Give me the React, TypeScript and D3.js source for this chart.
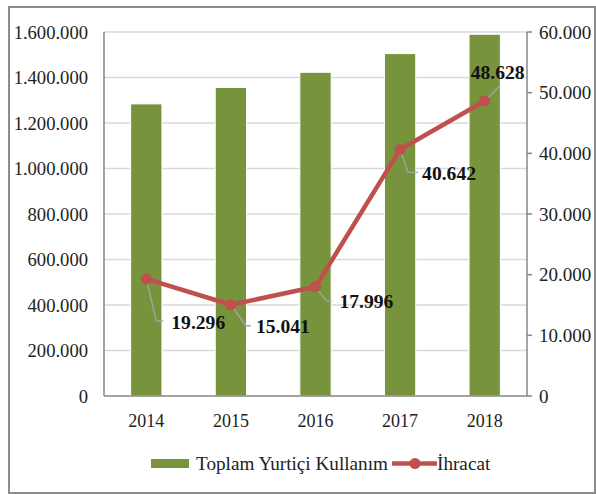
import React, { useRef, useEffect } from "react";
import * as d3 from "d3";

const years = ["2014", "2015", "2016", "2017", "2018"];
const domestic = [1284000, 1356000, 1423000, 1505000, 1590000];
const exports = [19296, 15041, 17996, 40642, 48628];
const exportLabels = ["19.296", "15.041", "17.996", "40.642", "48.628"];
const leftTicks = [0, 200000, 400000, 600000, 800000, 1000000, 1200000, 1400000, 1600000];
const rightTicks = [0, 10000, 20000, 30000, 40000, 50000, 60000];
const seriesNames = ["Toplam Yurtiçi Kullanım", "İhracat"];

// label offsets relative to the point (leader line elbow, text anchor)
const labelPos = [
  { elbow: [10, 42], end: [17, 42], text: [25, 50], anchor: "start" },
  { elbow: [15, 21], end: [20, 21], text: [25, 28], anchor: "start" },
  { elbow: [11, 14], end: [16, 14], text: [24, 21], anchor: "start" },
  { elbow: [8, 23], end: [18, 23], text: [22, 31], anchor: "start" },
  { elbow: [15, -15], end: [15, -15], text: [13, -22], anchor: "middle" },
];

const fmt = (v: number) => d3.format(",")(v).replace(/,/g, ".");

const App = () => {
  const svgRef = useRef<SVGSVGElement>(null);
  const W = 596;
  const H = 494;
  const m = { left: 104, right: 527, top: 32, bottom: 396 };
  const green = "#77933C";
  const red = "#C0504D";
  const font = "Liberation Serif, Times New Roman, serif";

  useEffect(() => {
    const svg = d3.select(svgRef.current);
    svg.selectAll("*").remove();

    // outer frame
    svg
      .append("rect")
      .attr("x", 9)
      .attr("y", 7)
      .attr("width", 586)
      .attr("height", 486)
      .attr("fill", "white")
      .attr("stroke", "#8c8c8c")
      .attr("stroke-width", 2);

    const x = d3.scaleBand().domain(years).range([m.left, m.right]).paddingInner(0.63).paddingOuter(0.315);
    const yL = d3.scaleLinear().domain([0, 1600000]).range([m.bottom, m.top]);
    const yR = d3.scaleLinear().domain([0, 60000]).range([m.bottom, m.top]);

    // gridlines
    svg
      .append("g")
      .selectAll("line")
      .data(leftTicks.slice(1))
      .enter()
      .append("line")
      .attr("x1", m.left)
      .attr("x2", m.right)
      .attr("y1", (d) => yL(d))
      .attr("y2", (d) => yL(d))
      .attr("stroke", "#d9d9d9")
      .attr("stroke-width", 1.5);

    // bars
    svg
      .append("g")
      .selectAll("rect")
      .data(domestic)
      .enter()
      .append("rect")
      .attr("x", (d, i) => x(years[i])!)
      .attr("y", (d) => yL(d))
      .attr("width", x.bandwidth())
      .attr("height", (d) => m.bottom - yL(d))
      .attr("fill", green)
      .attr("stroke", "white")
      .attr("stroke-width", 1);

    // axes
    const axisColor = "#868686";
    svg
      .append("line")
      .attr("x1", m.left)
      .attr("x2", m.left)
      .attr("y1", m.top)
      .attr("y2", m.bottom)
      .attr("stroke", axisColor)
      .attr("stroke-width", 1.5);
    svg
      .append("line")
      .attr("x1", m.left)
      .attr("x2", m.right)
      .attr("y1", m.bottom)
      .attr("y2", m.bottom)
      .attr("stroke", axisColor)
      .attr("stroke-width", 1.5);
    svg
      .append("line")
      .attr("x1", m.right)
      .attr("x2", m.right)
      .attr("y1", m.top)
      .attr("y2", m.bottom)
      .attr("stroke", axisColor)
      .attr("stroke-width", 1.5);
    svg
      .append("g")
      .selectAll("line")
      .data(rightTicks)
      .enter()
      .append("line")
      .attr("x1", m.right)
      .attr("x2", m.right + 5)
      .attr("y1", (d) => yR(d))
      .attr("y2", (d) => yR(d))
      .attr("stroke", axisColor)
      .attr("stroke-width", 1.5);

    // tick labels
    svg
      .append("g")
      .selectAll("text")
      .data(leftTicks)
      .enter()
      .append("text")
      .attr("x", 88)
      .attr("y", (d) => yL(d))
      .attr("dy", "0.35em")
      .attr("text-anchor", "end")
      .attr("font-family", font)
      .attr("font-size", 18.6)
      .attr("fill", "#222")
      .text((d) => fmt(d));
    svg
      .append("g")
      .selectAll("text")
      .data(rightTicks)
      .enter()
      .append("text")
      .attr("x", 539)
      .attr("y", (d) => yR(d))
      .attr("dy", "0.35em")
      .attr("text-anchor", "start")
      .attr("font-family", font)
      .attr("font-size", 19)
      .attr("fill", "#222")
      .text((d) => fmt(d));
    svg
      .append("g")
      .selectAll("text")
      .data(years)
      .enter()
      .append("text")
      .attr("x", (d) => x(d)! + x.bandwidth() / 2)
      .attr("y", 427)
      .attr("text-anchor", "middle")
      .attr("font-family", font)
      .attr("font-size", 18)
      .attr("fill", "#222")
      .text((d) => d);

    // line series
    const pts = exports.map((v, i) => [x(years[i])! + x.bandwidth() / 2, yR(v)] as [number, number]);

    // leader lines
    svg
      .append("g")
      .selectAll("polyline")
      .data(pts)
      .enter()
      .append("polyline")
      .attr("points", (p, i) => {
        const l = labelPos[i];
        return `${p[0]},${p[1]} ${p[0] + l.elbow[0]},${p[1] + l.elbow[1]} ${p[0] + l.end[0]},${p[1] + l.end[1]}`;
      })
      .attr("fill", "none")
      .attr("stroke", "#a6a6a6")
      .attr("stroke-width", 1.3);

    const line = d3.line();
    svg
      .append("path")
      .attr("d", line(pts))
      .attr("fill", "none")
      .attr("stroke", red)
      .attr("stroke-width", 4.5)
      .attr("stroke-linejoin", "round");
    svg
      .append("g")
      .selectAll("circle")
      .data(pts)
      .enter()
      .append("circle")
      .attr("cx", (p) => p[0])
      .attr("cy", (p) => p[1])
      .attr("r", 5.5)
      .attr("fill", red);

    // data labels
    svg
      .append("g")
      .selectAll("text")
      .data(pts)
      .enter()
      .append("text")
      .attr("x", (p, i) => p[0] + labelPos[i].text[0])
      .attr("y", (p, i) => p[1] + labelPos[i].text[1])
      .attr("text-anchor", (p, i) => labelPos[i].anchor)
      .attr("font-family", font)
      .attr("font-size", 19.6)
      .attr("font-weight", "bold")
      .attr("fill", "#111")
      .text((p, i) => exportLabels[i]);

    // legend
    const lg = svg.append("g");
    lg.append("rect").attr("x", 151).attr("y", 459).attr("width", 38).attr("height", 9).attr("fill", green);
    lg.append("text")
      .attr("x", 196)
      .attr("y", 470)
      .attr("font-family", font)
      .attr("font-size", 19.2)
      .attr("fill", "#222")
      .text(seriesNames[0]);
    lg.append("line")
      .attr("x1", 392)
      .attr("x2", 437)
      .attr("y1", 463.5)
      .attr("y2", 463.5)
      .attr("stroke", red)
      .attr("stroke-width", 4.5);
    lg.append("circle").attr("cx", 415).attr("cy", 463.5).attr("r", 5.5).attr("fill", red);
    lg.append("text")
      .attr("x", 437)
      .attr("y", 470)
      .attr("font-family", font)
      .attr("font-size", 19.2)
      .attr("fill", "#222")
      .text(seriesNames[1]);
  }, []);

  return (
    <div>
      <svg ref={svgRef} width={W} height={H} style={{ position: "absolute", left: 0, top: 0 }}></svg>
    </div>
  );
};

export default App;
